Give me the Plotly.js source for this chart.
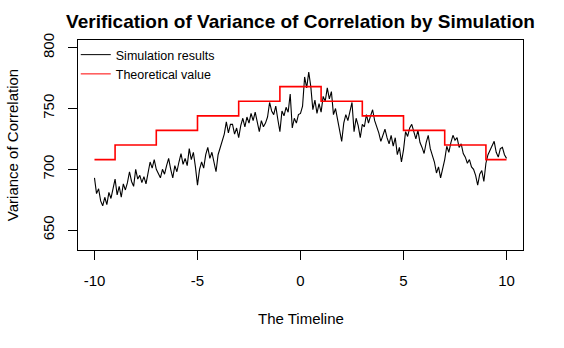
<!DOCTYPE html>
<html>
<head>
<meta charset="utf-8">
<script src="https://cdn.plot.ly/plotly-3.0.1.min.js"></script>
<style>
  html, body { margin: 0; padding: 0; background: #fff; }
  #chart { width: 564px; height: 348px; }
</style>
</head>
<body>
<div id="chart"></div>
<script>
// simulated variance at steps of 0.1 on the timeline
const simX = [];
for (let i = 0; i <= 200; i++) simX.push(Math.round((-10 + i * 0.1) * 10) / 10);

const simY = [
  693,
  680, 684, 674, 670, 677, 671, 681, 676, 683, 692,
  679, 686, 677, 688, 683, 689, 698, 690, 686, 700,
  692, 695, 689, 694, 688, 697, 706, 701, 708, 700,
  697, 693, 700, 696, 703, 709, 700, 693, 703, 698,
  706, 713, 704, 709, 703, 717, 708, 714, 702, 687,
  700, 706, 701, 712, 718, 709, 714, 705, 698, 712,
  718, 723, 729, 739, 730, 737, 737, 729, 734, 726,
  736, 742, 735, 743, 738, 746, 740, 747, 739, 731,
  740, 735, 738, 743, 755, 748, 745, 752, 741, 731,
  748, 744, 751, 747, 762, 734, 742, 738, 745, 746,
  752, 776, 767, 780, 768, 749, 757, 746, 754, 747,
  760, 756, 767, 758, 764, 745, 750, 741, 735, 723,
  738, 745, 740, 748, 755, 731, 742, 736, 726, 737,
  735, 745, 738, 744, 749, 740, 735, 730, 723, 729,
  733, 726, 721, 728, 719, 726, 712, 718, 706, 716,
  731, 727, 734, 737, 730, 725, 732, 722, 718, 713,
  722, 728, 717, 711, 706, 697, 702, 693, 700, 708,
  719, 714, 722, 728, 724, 726, 718, 721, 713, 710,
  705, 708, 702, 700, 695, 687, 696, 699, 690, 705,
  712, 716, 720, 723, 714, 710, 717, 718, 712, 709
];

// theoretical value, piecewise constant
const theoryX = [-10, -9, -7, -5, -3, -1, 1, 3, 5, 7, 9, 10];
const theoryY = [708, 720, 732, 744, 756, 768, 756, 744, 732, 720, 708, 708];

const xTicks = [-10, -5, 0, 5, 10];
const xTickLabels = ['-10', '-5', '0', '5', '10'];
const yTicks = [650, 700, 750, 800];

const fontFam = 'Liberation Sans, Arial, sans-serif';

const sim = {
  type: 'scatter', mode: 'lines',
  x: simX, y: simY,
  line: { color: 'black', width: 1.1 },
  showlegend: false, hoverinfo: 'skip'
};

const theory = {
  type: 'scatter', mode: 'lines',
  x: theoryX, y: theoryY,
  line: { color: '#ff0000', width: 1.6, shape: 'hv' },
  showlegend: false, hoverinfo: 'skip'
};

// legend entries with thin lines, like the R legend
const legSim = {
  type: 'scatter', mode: 'lines', x: [null], y: [null],
  name: 'Simulation results', line: { color: 'black', width: 1 }
};
const legTheory = {
  type: 'scatter', mode: 'lines', x: [null], y: [null],
  name: 'Theoretical value', line: { color: '#ff0000', width: 1 }
};

const layout = {
  width: 564, height: 348,
  margin: { l: 78, r: 41, t: 40, b: 98 },
  paper_bgcolor: 'white', plot_bgcolor: 'white',
  font: { family: fontFam, color: 'black', size: 15 },
  title: {
    text: 'Verification of Variance of Correlation by Simulation',
    font: { family: fontFam, size: 19, weight: 'bold', color: 'black' },
    x: 0.5, xref: 'paper', y: 0.94, yref: 'container', yanchor: 'middle'
  },
  xaxis: {
    range: [-10.8, 10.8], tickvals: xTicks, ticktext: xTickLabels,
    ticks: 'outside', ticklen: 9, tickcolor: 'black', tickwidth: 1,
    ticklabelstandoff: 8,
    showline: true, mirror: true, linecolor: 'black', linewidth: 1,
    showgrid: false, zeroline: false,
    tickfont: { size: 15 }
  },
  yaxis: {
    range: [633.6, 806.4], tickvals: yTicks, tickangle: -90,
    ticks: 'outside', ticklen: 9, tickcolor: 'black', tickwidth: 1,
    ticklabelstandoff: 8,
    showline: true, mirror: true, linecolor: 'black', linewidth: 1,
    showgrid: false, zeroline: false,
    tickfont: { size: 15 }
  },
  legend: {
    x: -0.005, xanchor: 'left', y: 1, yanchor: 'top',
    bgcolor: 'rgba(0,0,0,0)', font: { size: 12.5 }, tracegroupgap: 0
  },
  annotations: [
    {
      text: 'The Timeline', xref: 'paper', yref: 'paper',
      x: 0.5, y: -0.324, xanchor: 'center', yanchor: 'middle',
      showarrow: false, font: { size: 15 }
    },
    {
      text: 'Variance of Correlation', xref: 'paper', yref: 'paper',
      x: -0.148, y: 0.5, xanchor: 'center', yanchor: 'middle',
      textangle: -90, showarrow: false, font: { size: 15 }
    }
  ]
};

Plotly.newPlot('chart', [sim, theory, legSim, legTheory], layout, { displayModeBar: false, staticPlot: true });
</script>
</body>
</html>
